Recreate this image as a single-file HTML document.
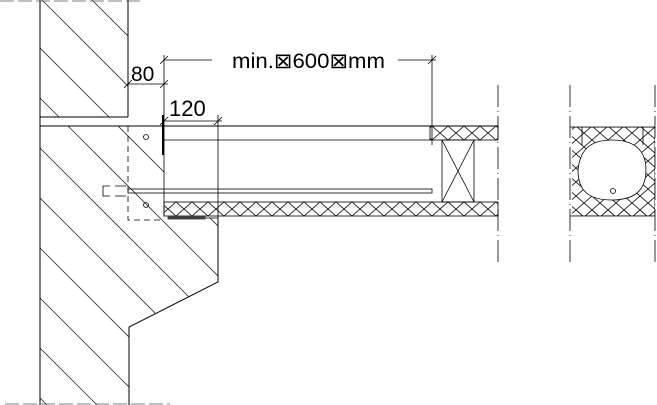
<!DOCTYPE html>
<html><head><meta charset="utf-8"><style>
html,body{margin:0;padding:0;background:#fff;width:657px;height:405px;overflow:hidden}
svg{display:block;overflow:hidden}
text{font-family:"Liberation Sans",sans-serif;fill:#000}
</style></head><body>
<svg width="657" height="405" viewBox="0 0 657 405" xmlns="http://www.w3.org/2000/svg">
<defs>
<pattern id="xh" x="0" y="126" width="16" height="14" patternUnits="userSpaceOnUse">
<path d="M0 0L16 14M16 0L0 14" stroke="#000" stroke-width="0.8" fill="none"/>
</pattern>
<pattern id="xh2" x="0" y="202" width="16" height="14" patternUnits="userSpaceOnUse">
<path d="M0 0L16 14M16 0L0 14" stroke="#000" stroke-width="0.8" fill="none"/>
</pattern>
<clipPath id="w1"><polygon points="40,0 128,0 128,117 40,117"/></clipPath>
<clipPath id="w2"><polygon points="40,126 164,126 164,218 218,218 218,282 129,327 129,405 40,405"/></clipPath>
<clipPath id="blob"><path d="M572 127H655V216H572Z M612 140 C590 140 580 150 578 170 C578 192 590 200 612 200 C632 200 646 192 646 170 C646 150 634 140 612 140Z" clip-rule="evenodd"/></clipPath>
</defs>
<g stroke="#000" fill="none" stroke-width="0.8">
<g clip-path="url(#w1)" stroke="#333">
<path d="M40 -2L250 208M40 48L250 258M40 98L250 308M-10 -2L200 208M90 -2L300 208"/>
</g>
<g clip-path="url(#w2)" stroke="#333">
<path d="M40 148L300 408M40 198L300 458M40 248L300 508M40 298L300 558M40 348L300 608M40 98L340 398M40 48L340 348M40 -2L340 298M40 398L200 558"/>
</g>
<path d="M40 0V405M128 0V117M40 117H128M40 126H498M218 218V282L129 327V405" stroke-width="1"/>
<path d="M0 1H140M5 404H170" stroke-dasharray="14,4" stroke="#555"/>
<path d="M164 140H430M164 126V216"/>
<rect x="430" y="126" width="68" height="14" fill="url(#xh)"/>
<rect x="442" y="140" width="32" height="62"/>
<path d="M442 140L474 202M474 140L442 202"/>
<rect x="128" y="189" width="304" height="4"/>
<rect x="164" y="202" width="334" height="14" fill="url(#xh2)"/>
<rect x="168" y="216" width="37" height="3" fill="#444" stroke="#333"/>
<path d="M205 218H218V230"/>
<path d="M163 115V155" stroke-width="2"/>
<path d="M128 126V220H164" stroke-dasharray="6,4"/>
<path d="M110 186H103V196H110M115 186H126M115 196H126" />
<circle cx="146" cy="137" r="2.5"/>
<circle cx="146" cy="205" r="2.5"/>
<path d="M164 55V126M432 55V145M164 60H212M398 60H436M128 84H168M164 121H222M218 115V218"/>
<path d="M160 64L168 56M428 64L436 56M124 88L132 80M160 88L168 80M160 125L168 117M214 125L222 117"/>
<path d="M498 85V262M570 85V262M655 85V262" stroke-dasharray="22,4,1,4"/>
<rect x="570" y="127" width="85" height="89" fill="url(#xh)" clip-path="url(#blob)"/>
<path d="M570 127H655M570 216H655M582 127V145M643 127V145"/>
<path d="M612 140 C590 140 580 150 578 170 C578 192 590 200 612 200 C632 200 646 192 646 170 C646 150 634 140 612 140Z"/>
<circle cx="613" cy="191" r="2.5"/>
</g>
<text x="232" y="68" font-size="21" textLength="153" lengthAdjust="spacingAndGlyphs">min.⊠600⊠mm</text>
<text x="131" y="81" font-size="21">80</text>
<text x="169" y="116" font-size="22">120</text>
</svg>
</body></html>
